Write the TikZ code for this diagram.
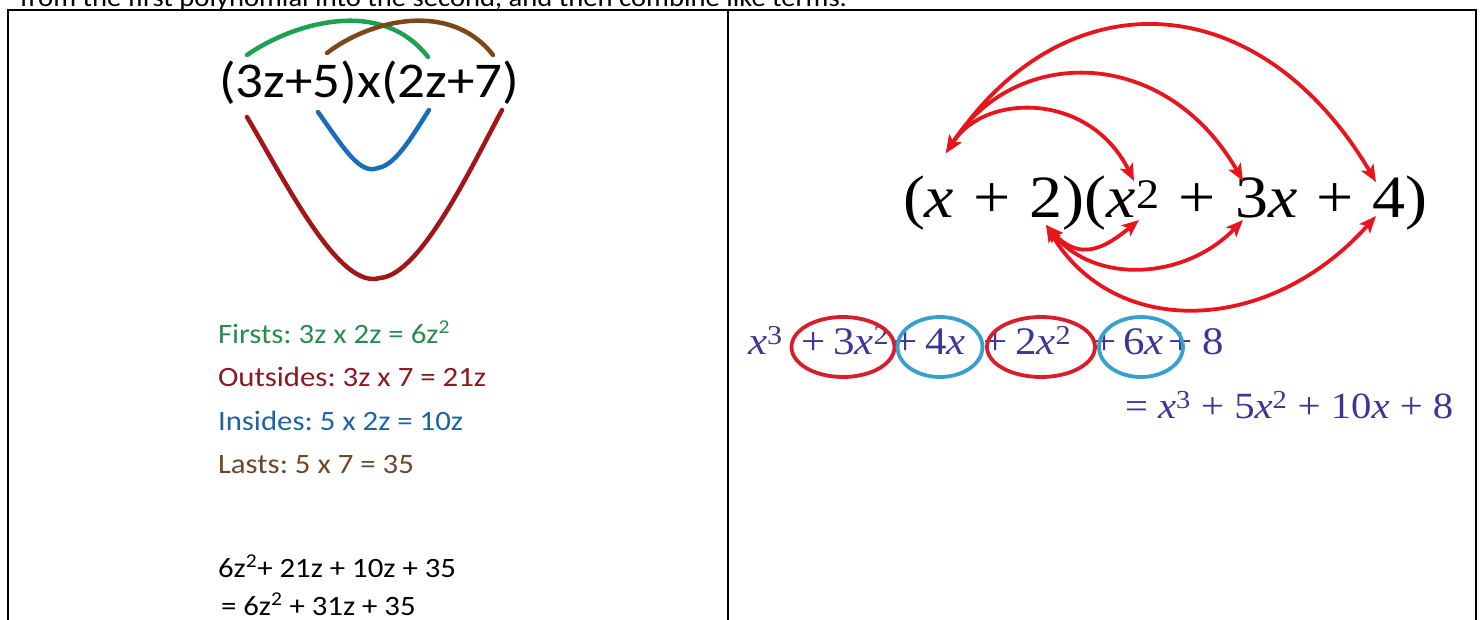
\documentclass[tikz,border=0pt]{standalone}
\usepackage{fontspec}
\usetikzlibrary{arrows.meta,shapes.geometric}
\newfontfamily\calib{Carlito}
\newfontfamily\tms{Liberation Serif}
\newcommand\hs[1]{\scalebox{1.1}[1]{#1}}
\newcommand\ix{\textit{x}}
\newcommand\sq[1]{\textsuperscript{#1}}
\newcommand\gp{\hspace{0.29em}}
\definecolor{cgreen}{RGB}{30,160,85}
\definecolor{cbrown}{RGB}{125,72,25}
\definecolor{cblue}{RGB}{25,110,185}
\definecolor{cdred}{RGB}{160,22,25}
\definecolor{tgreen}{RGB}{40,140,80}
\definecolor{tdred}{RGB}{140,25,30}
\definecolor{tblue}{RGB}{30,100,160}
\definecolor{tbrown}{RGB}{110,70,40}
\definecolor{purp}{RGB}{60,55,150}
\definecolor{ared}{RGB}{232,20,30}
\definecolor{cred}{RGB}{215,30,42}
\definecolor{ccyan}{RGB}{55,160,205}
\tikzset{
  lbl/.style={inner sep=0pt, outer sep=0pt, anchor=base west},
  curve/.style={line width=4.5pt, line cap=round},
  arr/.style={ared, line width=3.8pt, {Stealth[length=17pt,width=14pt,inset=4pt]}-{Stealth[length=17pt,width=14pt,inset=4pt]}},
  ring/.style={line width=3.8pt, ellipse, draw, minimum width=#1, minimum height=60pt, inner sep=0pt},
  rowtxt/.style={lbl, text=purp, font=\tms\fontsize{39}{41}\selectfont},
  ltxt/.style={lbl, font=\calib\fontsize{28}{30}\selectfont}
}
\begin{document}
\frenchspacing
\begin{tikzpicture}[x=1pt,y=-1pt]
\useasboundingbox (0,0) rectangle (1483,620);
\clip (0,0) rectangle (1483,620);
% top cut-off text
\node[lbl] (top) at (20,7) {\calib\fontsize{26}{28}\selectfont\hs{from the first polynomial into the second, and then combine like terms.}};
% table frame
\draw[line width=2pt] (8,620) -- (8,10) -- (1476,10) -- (1476,620);
\draw[line width=2pt] (728,10) -- (728,620);
% left panel
\node[lbl] (eqL) at (219,98) {\calib\fontsize{50}{52}\selectfont\hs{(3z+5)x(2z+7)}};
\draw[curve, cgreen] (247,55) .. controls (290,25) and (380,-5) .. (428,57);
\draw[curve, cbrown] (327,53) .. controls (370,20) and (450,0) .. (493,55);
\draw[curve, cblue] (318,112) .. controls (345,150) and (360,175) .. (378,168) .. controls (395,165) and (410,140) .. (429,110);
\draw[curve, cdred] (247,117) .. controls (290,190) and (340,290) .. (380,278) .. controls (420,275) and (470,170) .. (502,110);
\node[ltxt, text=tgreen] (f) at (218,343) {\hs{Firsts: 3z x 2z = 6z\sq{2}}};
\node[ltxt, text=tdred] (o) at (218,386) {\hs{Outsides: 3z x 7 = 21z}};
\node[ltxt, text=tblue] (i) at (218,430) {\hs{Insides: 5 x 2z = 10z}};
\node[ltxt, text=tbrown] (l) at (218,473) {\hs{Lasts: 5 x 7 = 35}};
\node[ltxt] (s1) at (218,577) {\hs{6z\sq{2}+ 21z + 10z + 35}};
\node[ltxt] (s2) at (221,615) {\hs{= 6z\sq{2} + 31z + 35}};
% right panel
\node[lbl] (eqR) at (903,218) {\tms\fontsize{60}{62}\selectfont\hs{(\ix\gp+\gp2)(\ix\sq{2}\gp+\gp3\ix\gp+\gp4)}};
\coordinate (xt) at (946,153);
\coordinate (t1) at (1134,181);
\coordinate (t2) at (1243,181);
\coordinate (t3) at (1376,182);
\coordinate (tw) at (1046,225);
\coordinate (b1) at (1139,220);
\coordinate (b2) at (1243,220);
\coordinate (b3) at (1376,216);
\draw[arr] (xt) .. controls (985,92) and (1090,92) .. (t1);
\draw[arr] (xt) .. controls (1015,45) and (1165,45) .. (t2);
\draw[arr] (xt) .. controls (1065,-25) and (1260,-15) .. (t3);
\draw[arr] (tw) .. controls (1080,262) and (1105,248) .. (b1);
\draw[arr] (tw) .. controls (1095,285) and (1185,280) .. (b2);
\draw[arr] (tw) .. controls (1115,340) and (1270,335) .. (b3);
% expanded row
\node[rowtxt] (p0) at (748,354) {\hs{\ix\sq{3}}};
\node[rowtxt] (p1) at (801,354) {\hs{+}};
\node[rowtxt] (p2) at (833,354) {\hs{3\ix\sq{2}}};
\node[rowtxt] (p3) at (893,354) {\hs{+}};
\node[rowtxt] (p4) at (925,354) {\hs{4\ix}};
\node[rowtxt] (p5) at (983,354) {\hs{+}};
\node[rowtxt] (p6) at (1015,354) {\hs{2\ix\sq{2}}};
\node[rowtxt] (p7) at (1092,354) {\hs{+}};
\node[rowtxt] (p8) at (1123,354) {\hs{6\ix}};
\node[rowtxt] (p9) at (1168,354) {\hs{+}};
\node[rowtxt] (p10) at (1202,354) {\hs{8}};
\node[ring=103pt, cred] (r1) at (843,347) {};
\node[ring=85pt, ccyan] (c1) at (940,347) {};
\node[ring=108pt, cred] (r2) at (1041,347) {};
\node[ring=84pt, ccyan] (c2) at (1141,347) {};
\node[lbl, text=purp] (res) at (1125,418) {\tms\fontsize{37}{39}\selectfont\hs{= \ix\sq{3} + 5\ix\sq{2} + 10\ix\ + 8}};
\end{tikzpicture}
\end{document}
